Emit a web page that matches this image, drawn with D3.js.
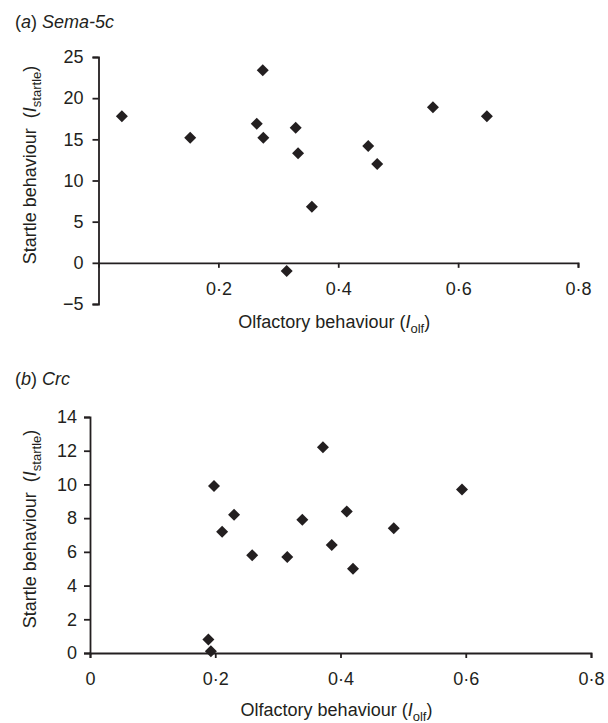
<!DOCTYPE html>
<html lang="en">
<head>
  <meta charset="UTF-8">
  <title>Sema-5c / Crc</title>
  <style>
    html, body { margin: 0; padding: 0; background: #fff; }
    svg { display: block; font-family: "Liberation Sans", Arial, Helvetica, sans-serif; }
    .axis path, .axis line { stroke: #231f20; stroke-width: 1.8; }
    .axis text { font-size: 18px; fill: #231f20; font-family: "Liberation Sans", Arial, sans-serif; }
    .label { font-size: 18px; fill: #231f20; white-space: pre; }
    .dot { fill: #231f20; }
  </style>
  <script src="https://cdn.jsdelivr.net/npm/d3@7/dist/d3.min.js"></script>
</head>
<body>
<script>
  // ---------- data ----------
  const semaX = [0.039, 0.153, 0.274, 0.264, 0.275, 0.329, 0.333, 0.356, 0.314, 0.558, 0.648, 0.450, 0.465];
  const semaY = [17.8, 15.2, 23.4, 16.9, 15.2, 16.4, 13.3, 6.8, -1.0, 18.9, 17.8, 14.2, 12.0];
  const crcX = [0.198, 0.230, 0.211, 0.259, 0.315, 0.372, 0.339, 0.410, 0.386, 0.420, 0.485, 0.594, 0.189, 0.193];
  const crcY = [9.9, 8.2, 7.2, 5.8, 5.7, 12.2, 7.9, 8.4, 6.4, 5.0, 7.4, 9.7, 0.8, 0.1];

  const semaXTicks = [0.2, 0.4, 0.6, 0.8];
  const semaYTicks = [-5, 0, 5, 10, 15, 20, 25];
  const crcXTicks = [0, 0.2, 0.4, 0.6, 0.8];
  const crcYTicks = [0, 2, 4, 6, 8, 10, 12, 14];

  const width = 608;
  const height = 723;

  const svg = d3.select('body').append('svg')
    .attr('width', width)
    .attr('height', height);

  const fmtX = (d) => d === 0 ? '0' : d3.format('.1f')(d).replace('.', '\u00b7');

  const panels = [
    {
      tag: 'a', name: 'Sema-5c', titleY: 28,
      xs: semaX, ys: semaY, xTicks: semaXTicks, yTicks: semaYTicks,
      xDomain: [0, 0.8], yDomain: [-5, 25],
      left: 98.5, right: 578, top: 57, bottom: 304,
      yPad: 9, xTitleY: 328, yTitleMid: 165
    },
    {
      tag: 'b', name: 'Crc', titleY: 385,
      xs: crcX, ys: crcY, xTicks: crcXTicks, yTicks: crcYTicks,
      xDomain: [0, 0.8], yDomain: [0, 14],
      left: 90, right: 591, top: 417, bottom: 653,
      yPad: 7, xTitleY: 716, yTitleMid: 529
    }
  ];

  panels.forEach((p) => {
    const xScale = d3.scaleLinear().domain(p.xDomain).range([p.left, p.right]);
    const yScale = d3.scaleLinear().domain(p.yDomain).range([p.bottom, p.top]);
    const x0 = yScale(0);

    // panel title
    const t = svg.append('text').attr('class', 'label').attr('x', 15).attr('y', p.titleY);
    t.append('tspan').text('(');
    t.append('tspan').attr('font-style', 'italic').text(p.tag);
    t.append('tspan').text(') ');
    t.append('tspan').attr('font-style', 'italic').text(p.name);

    // y axis
    svg.append('g')
      .attr('class', 'axis')
      .attr('transform', `translate(${p.left},0)`)
      .call(d3.axisLeft(yScale).tickValues(p.yTicks).tickSize(6).tickPadding(p.yPad).tickFormat(d3.format('d')));

    // x axis, sits on y = 0
    svg.append('g')
      .attr('class', 'axis')
      .attr('transform', `translate(0,${x0})`)
      .call(d3.axisBottom(xScale).tickValues(p.xTicks).tickSizeInner(5).tickSizeOuter(5).tickPadding(14).tickFormat(fmtX));

    // points
    svg.append('g').selectAll('path')
      .data(p.xs.map((v, i) => [v, p.ys[i]]))
      .enter()
      .append('path')
      .attr('class', 'dot')
      .attr('d', d3.symbol(d3.symbolSquare, 72))
      .attr('transform', (d) => `translate(${xScale(d[0])},${yScale(d[1])}) rotate(45)`);

    // x title
    const xt = svg.append('text').attr('class', 'label')
      .attr('x', (p.left + p.right) / 2 - 4).attr('y', p.xTitleY)
      .attr('text-anchor', 'middle');
    xt.append('tspan').text('Olfactory behaviour (');
    xt.append('tspan').attr('font-style', 'italic').text('I');
    xt.append('tspan').attr('font-size', '13px').attr('dy', 5).text('olf');
    xt.append('tspan').attr('dy', -5).text(')');

    // y title
    const yt = svg.append('text').attr('class', 'label')
      .attr('transform', `translate(36,${p.yTitleMid}) rotate(-90)`)
      .attr('text-anchor', 'middle');
    yt.append('tspan').text('Startle behaviour  (');
    yt.append('tspan').attr('font-style', 'italic').text('I');
    yt.append('tspan').attr('font-size', '13px').attr('dy', 5).text('startle');
    yt.append('tspan').attr('dy', -5).text(')');
  });
</script>
</body>
</html>
